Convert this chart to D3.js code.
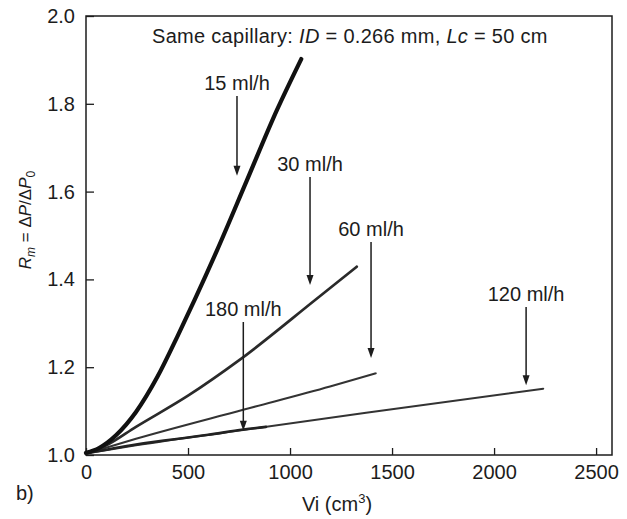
<!DOCTYPE html>
<html>
<head>
<meta charset="utf-8">
<script src="https://cdn.jsdelivr.net/npm/d3@7"></script>
<style>
  body { margin: 0; background: #fff; }
  svg { display: block; font-family: "Liberation Sans", Arial, Helvetica, sans-serif; }
</style>
</head>
<body>
<svg id="chart" width="627" height="519"></svg>
<script>
// readings taken off the curves (Vi in cm3, Rm)
const vi15 = [0, 64, 147, 245, 350, 450, 534, 641, 788, 935, 1055];
const rm15 = [1.005, 1.016, 1.045, 1.098, 1.178, 1.272, 1.355, 1.465, 1.625, 1.785, 1.902];

const vi30 = [0, 100, 245, 500, 751, 1123, 1327];
const rm30 = [1.003, 1.022, 1.064, 1.135, 1.216, 1.353, 1.429];

const vi60 = [0, 245, 770, 1196, 1420];
const rm60 = [1.003, 1.037, 1.103, 1.156, 1.186];

const vi120 = [0, 245, 770, 1373, 2241];
const rm120 = [1.003, 1.022, 1.057, 1.096, 1.151];

const vi180 = [0, 245, 600, 771, 882];
const rm180 = [1.004, 1.024, 1.046, 1.058, 1.064];

// arrow annotations: label, Vi position, arrow top and tip (Rm)
const annoLabels = ["15 ml/h", "30 ml/h", "60 ml/h", "120 ml/h", "180 ml/h"];
const annoVi = [740, 1098, 1397, 2157, 771];
const annoTop = [1.818, 1.633, 1.485, 1.337, 1.303];
const annoTip = [1.636, 1.387, 1.221, 1.159, 1.055];

const xTicks = [0, 500, 1000, 1500, 2000, 2500];
const yTicks = [1.0, 1.2, 1.4, 1.6, 1.8, 2.0];

const margin = { top: 16, right: 15, bottom: 64, left: 86 };
const width = 627 - margin.left - margin.right;
const height = 519 - margin.top - margin.bottom;

const svg = d3.select('#chart');
const g = svg.append('g').attr('transform', `translate(${margin.left},${margin.top})`);

const x = d3.scaleLinear().domain([0, 2578]).range([0, width]);
const y = d3.scaleLinear().domain([1.0, 2.0]).range([height, 0]);

const ink = '#1c1c1c';

// axes, ticks pointing inward
const xAxis = g.append('g')
  .attr('transform', `translate(0,${height})`)
  .call(d3.axisBottom(x).tickValues(xTicks).tickSize(-7).tickPadding(10).tickFormat(d3.format('d')));

const yAxis = g.append('g')
  .call(d3.axisLeft(y).tickValues(yTicks).tickSize(-8).tickPadding(11).tickFormat(d3.format('.1f')));

[xAxis, yAxis].forEach(a => {
  a.select('.domain').remove();
  a.selectAll('line').attr('stroke', ink).attr('stroke-width', 1.3);
  a.selectAll('text').attr('fill', ink).style('font-size', '20px').style('font-family', null);
});

g.append('rect')
  .attr('width', width)
  .attr('height', height)
  .attr('fill', 'none')
  .attr('stroke', ink)
  .attr('stroke-width', 1.5);

// curves
const seriesList = [
  { vi: vi120, rm: rm120, w: 2, c: '#333' },
  { vi: vi60, rm: rm60, w: 2, c: '#333' },
  { vi: vi180, rm: rm180, w: 2.6, c: '#222' },
  { vi: vi30, rm: rm30, w: 2.7, c: '#2a2a2a' },
  { vi: vi15, rm: rm15, w: 4.2, c: '#111' },
];

const line = d3.line()
  .x(d => x(d[0]))
  .y(d => y(d[1]))
  .curve(d3.curveMonotoneX);

g.selectAll('path.curve')
  .data(seriesList)
  .enter()
  .append('path')
  .attr('class', 'curve')
  .attr('fill', 'none')
  .attr('stroke', d => d.c)
  .attr('stroke-width', d => d.w)
  .attr('stroke-linecap', 'round')
  .attr('stroke-linejoin', 'round')
  .attr('d', d => line(d.vi.map((v, i) => [v, d.rm[i]])));

// annotations
const annos = annoLabels.map((label, i) => ({
  label, vi: annoVi[i], top: annoTop[i], tip: annoTip[i]
}));

const a = g.selectAll('g.anno')
  .data(annos)
  .enter()
  .append('g')
  .attr('class', 'anno');

a.append('line')
  .attr('x1', d => x(d.vi))
  .attr('x2', d => x(d.vi))
  .attr('y1', d => y(d.top))
  .attr('y2', d => y(d.tip) - 6)
  .attr('stroke', ink)
  .attr('stroke-width', 1.5);

a.append('path')
  .attr('fill', ink)
  .attr('d', d => {
    const px = x(d.vi), py = y(d.tip);
    return `M${px - 3.5},${py - 10}L${px + 3.5},${py - 10}L${px},${py}Z`;
  });

a.append('text')
  .attr('x', d => x(d.vi))
  .attr('y', d => y(d.top) - 6)
  .attr('text-anchor', 'middle')
  .attr('fill', ink)
  .style('font-size', '20px')
  .text(d => d.label);

// title inside the plot
const title = svg.append('text')
  .attr('x', 152)
  .attr('y', 43)
  .attr('fill', ink)
  .style('font-size', '20px')
  .style('letter-spacing', '0.3px');
title.append('tspan').text('Same capillary: ');
title.append('tspan').style('font-style', 'italic').text('ID');
title.append('tspan').text(' = 0.266 mm, ');
title.append('tspan').style('font-style', 'italic').text('Lc');
title.append('tspan').text(' = 50 cm');

// y label
const yl = svg.append('text')
  .attr('transform', 'translate(31,220) rotate(-90)')
  .attr('text-anchor', 'middle')
  .attr('fill', ink)
  .style('font-size', '17px');
yl.append('tspan').style('font-style', 'italic').text('R');
yl.append('tspan').style('font-style', 'italic').style('font-size', '12px').attr('dy', 4).text('m');
yl.append('tspan').attr('dy', -4).text(' = Δ');
yl.append('tspan').style('font-style', 'italic').text('P');
yl.append('tspan').text('/Δ');
yl.append('tspan').style('font-style', 'italic').text('P');
yl.append('tspan').style('font-size', '12px').attr('dy', 4).text('0');

// x label
const xl = svg.append('text')
  .attr('x', 337)
  .attr('y', 511)
  .attr('text-anchor', 'middle')
  .attr('fill', ink)
  .style('font-size', '20px');
xl.append('tspan').text('Vi (cm');
xl.append('tspan').style('font-size', '13px').attr('dy', -8).text('3');
xl.append('tspan').attr('dy', 8).text(')');

svg.append('text')
  .attr('x', 16)
  .attr('y', 500)
  .attr('fill', ink)
  .style('font-size', '20px')
  .text('b)');
</script>
</body>
</html>
